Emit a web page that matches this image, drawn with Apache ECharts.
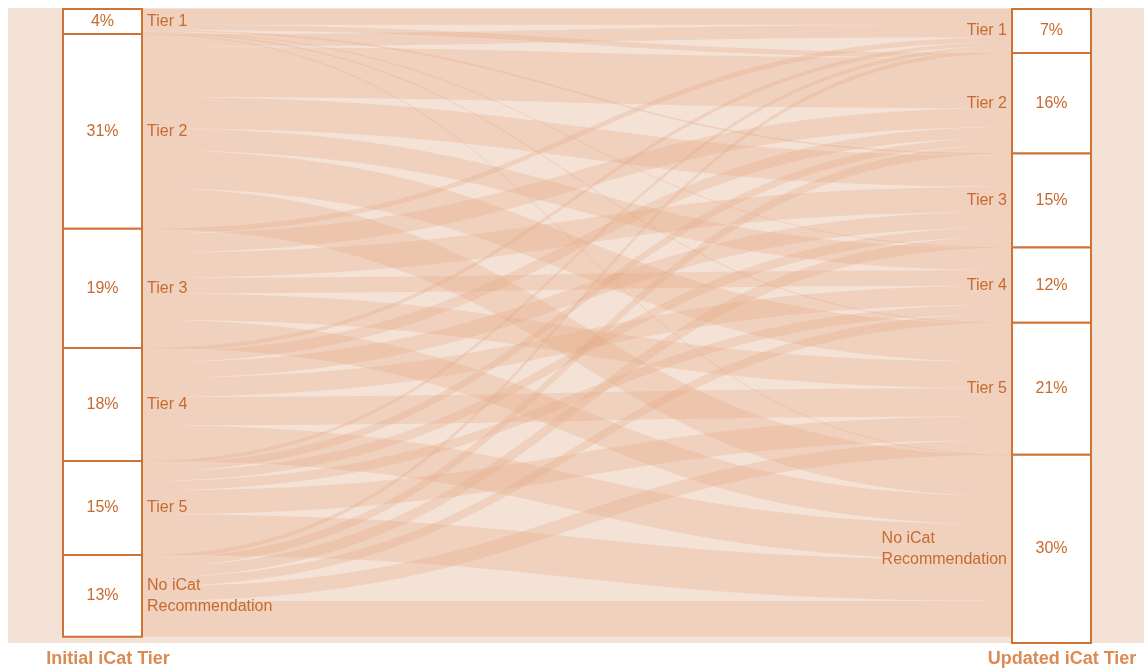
<!DOCTYPE html>
<html>
<head>
<meta charset="utf-8">
<title>Initial vs Updated iCat Tier</title>
<script src="https://cdn.jsdelivr.net/npm/echarts@6/dist/echarts.min.js"></script>
<style>
  html, body { margin: 0; padding: 0; background: #ffffff; }
  #chart { width: 1144px; height: 671px; }
</style>
</head>
<body>
<div id="chart"></div>
<script>
// Tier categories, shared by both columns
const tiers = ['Tier 1', 'Tier 2', 'Tier 3', 'Tier 4', 'Tier 5', 'No iCat Recommendation'];
const tierLabels = ['Tier 1', 'Tier 2', 'Tier 3', 'Tier 4', 'Tier 5', 'No iCat\nRecommendation'];

// Share of items (%) in each tier before and after the update
const initialShare = [4, 31, 19, 18, 15, 13];
const updatedShare = [7, 16, 15, 12, 21, 30];

// Flows (% of items) from each initial tier to the updated tiers
// order of targets: Tier 1, Tier 2, Tier 3, Tier 4, Tier 5, No iCat
const fromTier1 = [2.5, 0.8, 0.3, 0.1, 0.2, 0.1];
const fromTier2 = [2.0, 8.0, 5.0, 3.5, 6.0, 6.5];
const fromTier3 = [0.8, 3.0, 4.0, 2.5, 4.2, 4.5];
const fromTier4 = [0.6, 1.7, 2.5, 3.0, 4.5, 5.7];
const fromTier5 = [0.5, 1.2, 1.5, 1.5, 3.8, 6.5];
const fromNoRec = [0.6, 1.3, 1.7, 1.4, 2.3, 5.7];
const flowRows = [fromTier1, fromTier2, fromTier3, fromTier4, fromTier5, fromNoRec];

const ORANGE = '#cf7236';
const TEXT = '#c86a2e';
const FONT = '"Liberation Sans", Arial, sans-serif';

const leftId = t => 'initial|' + t;
const rightId = t => 'updated|' + t;

function buildNodes(labelFor) {
  const nodes = [];
  tiers.forEach((t, i) => {
    nodes.push({ name: leftId(t), value: initialShare[i], label: labelFor('left', i) });
  });
  tiers.forEach((t, i) => {
    nodes.push({ name: rightId(t), value: updatedShare[i], label: labelFor('right', i) });
  });
  return nodes;
}

const links = [];
flowRows.forEach((row, i) => {
  row.forEach((v, j) => {
    links.push({ source: leftId(tiers[i]), target: rightId(tiers[j]), value: v });
  });
});

const layout = {
  type: 'sankey',
  left: 63,
  right: 53,
  top: 9,
  bottom: 28,
  nodeWidth: 79,
  nodeGap: 0,
  layoutIterations: 0,
  draggable: false,
  silent: true,
  emphasis: { disabled: true }
};

// boxes with percentage inside, plus the flow bands
const boxSeries = Object.assign({}, layout, {
  z: 2,
  data: buildNodes((side, i) => ({
    show: true,
    position: 'inside',
    formatter: (side === 'left' ? initialShare[i] : updatedShare[i]) + '%',
    color: TEXT,
    fontSize: 16,
    fontFamily: FONT
  })),
  links: links,
  itemStyle: { color: '#ffffff', borderColor: ORANGE, borderWidth: 2, opacity: 1 },
  lineStyle: { color: '#e3a984', opacity: 0.3, curveness: 0.5 }
});

// tier names beside the boxes (same layout, invisible marks)
const nameSeries = Object.assign({}, layout, {
  z: 3,
  data: buildNodes((side, i) => ({
    show: true,
    position: side === 'left' ? 'right' : 'left',
    distance: 5,
    formatter: tierLabels[i].split('\n').map(s => '{a|' + s + '}').join('\n'),
    rich: { a: { align: 'left', color: TEXT, fontSize: 16, fontFamily: FONT, lineHeight: 21 } }
  })),
  links: links,
  itemStyle: { color: 'rgba(0,0,0,0)', borderWidth: 0, opacity: 0 },
  lineStyle: { opacity: 0 }
});

const chart = echarts.init(document.getElementById('chart'), null, { renderer: 'canvas' });
chart.setOption({
  animation: false,
  backgroundColor: '#ffffff',
  graphic: [{
    type: 'rect',
    silent: true,
    z: -10,
    shape: { x: 8, y: 8, width: 1136, height: 635 },
    style: { fill: '#f4e2d7' }
  }],
  title: [
    {
      text: 'Initial iCat Tier',
      left: 103, top: 645, textAlign: 'center',
      textStyle: { color: '#dc8a52', fontSize: 18, fontWeight: 'bold', fontFamily: FONT }
    },
    {
      text: 'Updated iCat Tier',
      left: 1057, top: 645, textAlign: 'center',
      textStyle: { color: '#dc8a52', fontSize: 18, fontWeight: 'bold', fontFamily: FONT }
    }
  ],
  series: [boxSeries, nameSeries]
});
</script>
</body>
</html>
